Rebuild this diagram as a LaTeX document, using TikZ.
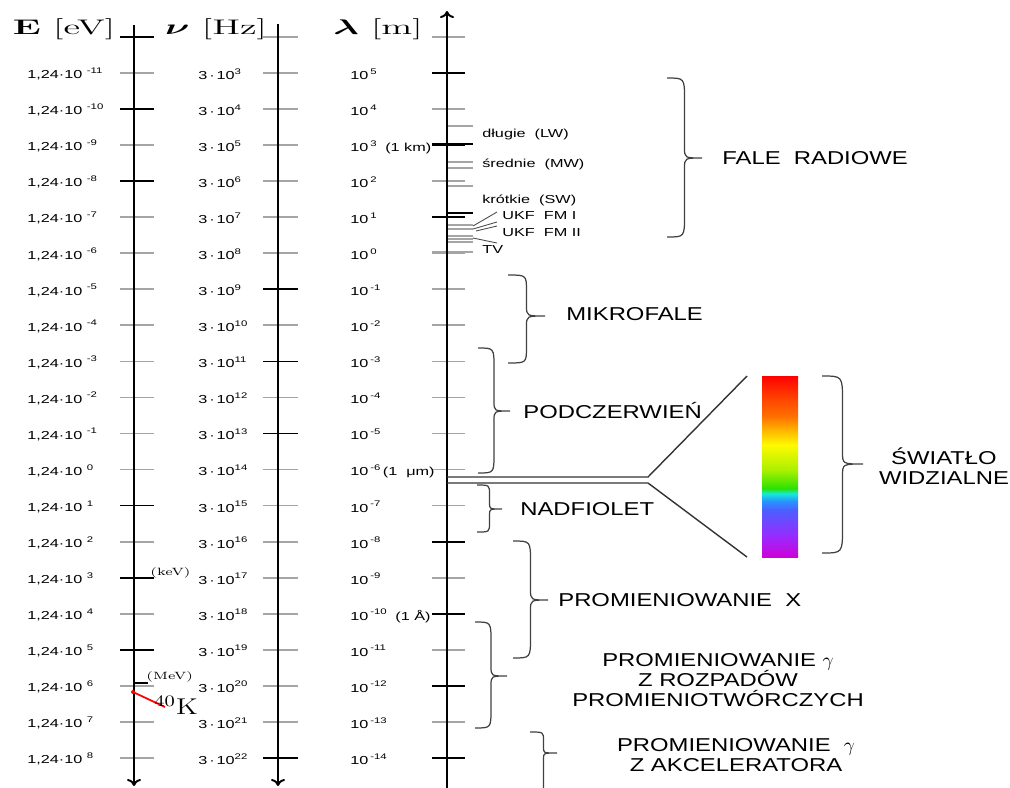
\documentclass[tikz,border=0pt]{standalone}
\usepackage{amsmath}
\usepackage{fontspec}
\usetikzlibrary{positioning,arrows.meta}
\newfontfamily\lblfont{Liberation Sans}[FakeStretch=1.4]
\newfontfamily\bandfont{Liberation Sans}[FakeStretch=1.28]

\definecolor{tickgray}{RGB}{165,165,165}
\definecolor{rbmag}{RGB}{205,0,215}
\definecolor{rbpur}{RGB}{150,45,255}
\definecolor{rbblu}{RGB}{75,95,255}
\definecolor{rblbl}{RGB}{40,150,255}
\definecolor{rbcya}{RGB}{20,235,215}
\definecolor{rbgrn}{RGB}{45,225,0}
\definecolor{rbygr}{RGB}{170,240,0}
\definecolor{rbyel}{RGB}{255,250,0}
\definecolor{rbyor}{RGB}{255,190,0}
\definecolor{rbora}{RGB}{255,110,0}
\definecolor{rborr}{RGB}{255,70,0}
\definecolor{rbred}{RGB}{255,0,0}
\pgfdeclareverticalshading{rainbowbar}{100bp}{color(0bp)=(rbmag); color(25bp)=(rbmag);
  color(31bp)=(rbpur); color(38bp)=(rbblu); color(40.5bp)=(rblbl); color(42.5bp)=(rbcya);
  color(44bp)=(rbgrn); color(49bp)=(rbygr); color(56bp)=(rbyel); color(59.5bp)=(rbyor);
  color(64bp)=(rbora); color(68.5bp)=(rborr); color(75bp)=(rbred); color(100bp)=(rbred)}

% x, top, bottom, amplitude, tip
\newcommand\bandbrace[5]{%
  \pgfmathsetmacro\bsx{#1+#4/2}%
  \pgfmathsetmacro\btx{#1+#4}%
  \pgfmathsetmacro\bcl{min(0.6*#4,(#5-#2)/2.5,(#3-#5)/2.5)}%
  \pgfmathsetmacro\bkl{min(0.3*#4,(#5-#2)/4,(#3-#5)/4)}%
  \draw[brc] (#1,#2) .. controls (\bsx,#2) .. (\bsx,#2+\bcl) -- (\bsx,#5-\bkl)
    .. controls (\bsx,#5) .. (\btx,#5) .. controls (\bsx,#5) .. (\bsx,#5+\bkl)
    -- (\bsx,#3-\bcl) .. controls (\bsx,#3) .. (#1,#3);}

\begin{document}
\begin{tikzpicture}[x=.2mm,y=-.2mm,
  tick/.style={tickgray,line width=1pt},
  axis/.style={black,line width=1.1pt},
  tlbl/.style={anchor=west,inner sep=0,font=\lblfont\fontsize{6.6}{7.5}\selectfont},
  band/.style={inner sep=0,font=\bandfont\fontsize{10.6}{11.6}\selectfont},
  hdr/.style={inner sep=0,xscale=1.8,font=\fontsize{12}{14}\selectfont},
  unit/.style={anchor=west,inner sep=0,xscale=1.3,font=\fontsize{6}{7}\selectfont},
  brc/.style={black!75,line width=.7pt},
  fan/.style={black!80,line width=.8pt}]
\useasboundingbox (0,0) rectangle (1010,787);
\clip (0,0) rectangle (1010,787);

\foreach \row in {-1,...,19}{
  \pgfmathsetmacro\yy{73+36.05*\row}
  \draw[tick] (120,\yy) -- (154,\yy);
  \draw[tick] (263,\yy) -- (298,\yy);
  \draw[tick] (432,\yy) -- (465,\yy);
}
\foreach \row in {-1,1,3,12,14,16}{\pgfmathsetmacro\yy{73+36.05*\row}\draw[tick,black] (120,\yy) -- (154,\yy);}
\foreach \row in {6,8,10,19}{\pgfmathsetmacro\yy{73+36.05*\row}\draw[tick,black] (263,\yy) -- (298,\yy);}
\foreach \row in {0,2,4,13,15,17,19}{\pgfmathsetmacro\yy{73+36.05*\row}\draw[tick,black] (432,\yy) -- (465,\yy);}

\foreach \row in {0,...,19}{
  \pgfmathsetmacro\yy{74+36.05*\row}
  \pgfmathtruncatemacro\eex{\row-11}
  \pgfmathtruncatemacro\nex{\row+3}
  \pgfmathtruncatemacro\lex{5-\row}
  \node[tlbl] (e\row) at (27,\yy) {1,24·10 \textsuperscript{\eex}};
  \node[tlbl] (nu\row) at (198,\yy) {3\,·\,10\textsuperscript{\nex}};
  \node[tlbl] (lam\row) at (350,\yy) {10\,\textsuperscript{\lex}};
}
\node[tlbl,base right=4pt of lam2] (km) {(1 km)};
\node[tlbl,base right=.5pt of lam11] (um) {(1~ μm)};
\node[tlbl,base right=4pt of lam15] (ang) {(1 Å)};

% radio bands
\draw[tick] (447,126) -- (473,126) (447,162) -- (473,162) (447,168) -- (473,168) (447,186) -- (473,186);
\draw[tick,black] (432,144) -- (473,144) (447,213) -- (473,213);
\draw[tick] (447,225) -- (473,225) (447,229) -- (473,229) (432,252) -- (473,252);
\draw[tick] (447,236) -- (473,236) (447,239) -- (473,239) (447,242) -- (473,242);
\draw[black!70,line width=.5pt] (473,226) -- (497,212) (473,229) -- (497,222) (476,231) -- (497,226) (473,238) -- (497,243);
\node[tlbl] (lw) at (482,134) {długie~ (LW)};\node[tlbl] (mw) at (482,164) {średnie~ (MW)};
\node[tlbl] (sw) at (482,200) {krótkie~ (SW)};\node[tlbl] (fm1) at (502,216) {UKF~ FM I};
\node[tlbl] (fm2) at (502,233) {UKF~ FM II};\node[tlbl] (tv) at (482,249) {TV};

\draw[axis,-{To[length=4pt,width=8pt]}] (134,25) -- (134,786);
\draw[axis,-{To[length=4pt,width=8pt]}] (278,24) -- (278,786);
\draw[axis,-{To[length=4pt,width=8pt]}] (447,800) -- (447,11);

\node[hdr] (ehd) at (64,29) {\textbf{E} [eV]};
\node[hdr] (nuhd) at (216,29) {$\boldsymbol{\nu}$ [Hz]};
\node[hdr] (lamhd) at (378,29) {$\boldsymbol{\lambda}$ [m]};

\draw[tick,black,line width=.8pt] (134,683) -- (148,683);
\node[unit] (kev) at (150,573) {(keV)};\node[unit] (mev) at (146,677) {(MeV)};
\coordinate (kdot) at (133,692);\coordinate (kend) at (165,707);
\draw[red,line width=1pt] (kdot) -- (kend);\fill[red] (kdot) circle (2);
\node[anchor=base west,inner sep=0,xscale=1.25,font=\fontsize{13}{15}\selectfont] (potas) at (154,714) {\textsuperscript{40}K};

% visible light
\draw[fan] (447,477) -- (648,477) -- (747,376);
\draw[fan] (447,483) -- (648,483) -- (747,557);
\shade[shading=rainbowbar] (762,376) rectangle (798,557);

\bandbrace{667}{78}{237}{35}{158}
\bandbrace{508}{275}{363}{37}{316}
\bandbrace{478}{348}{473}{32}{411}
\bandbrace{477}{485}{532}{25}{509}
\bandbrace{822}{376}{553}{41}{464}
\bandbrace{513}{541}{658}{35}{600}
\bandbrace{475}{622}{728}{32}{676}
\bandbrace{530}{732}{840}{27}{753}

\node[band,anchor=west] (radio) at (722,158) {FALE~ RADIOWE};
\node[band,anchor=west] (mikro) at (566,314) {MIKROFALE};
\node[band,anchor=west] (ir) at (523,411) {PODCZERWIEŃ};
\node[band,anchor=west] (uv) at (520,509) {NADFIOLET};
\node[band,align=center] (vis) at (944,466) {ŚWIATŁO\\WIDZIALNE};
\node[band,anchor=west] (xray) at (558,600) {PROMIENIOWANIE~ X};
\node[band,align=center] (gdecay) at (718,680) {PROMIENIOWANIE $\gamma$\\Z ROZPADÓW\\PROMIENIOTWÓRCZYCH};
\node[band,align=center] (gacc) at (736,755) {PROMIENIOWANIE~ $\gamma$\\Z AKCELERATORA};
\end{tikzpicture}
\end{document}
